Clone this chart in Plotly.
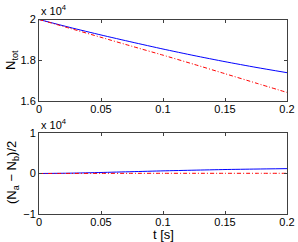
import plotly.graph_objects as go

t = [0, 0.025, 0.05, 0.075, 0.1, 0.125, 0.15, 0.175, 0.2]
ntot_blue = [20000, 19610, 19240, 18890, 18550, 18230, 17930, 17650, 17390]
ntot_red = [20000, 19565, 19125, 18685, 18250, 17800, 17340, 16880, 16420]
diff_blue = [0, 80, 250, 450, 650, 820, 980, 1100, 1200]
diff_red = [0, 20, 30, 40, 50, 50, 50, 50, 50]

x_ticks = [0, 0.05, 0.1, 0.15, 0.2]
x_labels = ["0", "0.05", "0.1", "0.15", "0.2"]
top_ticks = [16000, 18000, 20000]
top_labels = ["1.6", "1.8", "2"]
bot_ticks = [-10000, 0, 10000]
bot_labels = ["\u22121", "0", "1"]

W, H = 298, 242
def py(p):
    return 1 - p / H

blue = dict(color="#0000ff", width=1, shape="spline", smoothing=0.6)
red = dict(color="#ff0000", width=1, dash="4px,2px,1px,2px", shape="spline", smoothing=0.6)

fig = go.Figure()
fig.add_trace(go.Scatter(x=t, y=ntot_blue, mode="lines", line=blue, xaxis="x", yaxis="y"))
fig.add_trace(go.Scatter(x=t, y=ntot_red, mode="lines", line=red, xaxis="x", yaxis="y"))
fig.add_trace(go.Scatter(x=t, y=diff_blue, mode="lines", line=blue, xaxis="x2", yaxis="y2"))
fig.add_trace(go.Scatter(x=t, y=diff_red, mode="lines", line=red, xaxis="x2", yaxis="y2"))

font = dict(family="Liberation Sans, Arial, sans-serif", size=11, color="black")
axcommon = dict(showline=True, linecolor="#404040", linewidth=1, mirror="ticks", ticks="inside",
                ticklen=3, tickcolor="#404040", showgrid=False, zeroline=False, tickfont=font,
                automargin=False)
xd = [39 / W, 287 / W]

fig.update_layout(
    width=W, height=H, margin=dict(l=0, r=0, t=0, b=0, pad=0, autoexpand=False),
    paper_bgcolor="white", plot_bgcolor="white", showlegend=False, font=font,
    xaxis=dict(domain=xd, range=[0, 0.2], tickvals=x_ticks, ticktext=x_labels, anchor="y",
               ticklabelstandoff=-2, **axcommon),
    yaxis=dict(domain=[py(101), py(19.5)], range=[16000, 20000], tickvals=top_ticks, ticktext=top_labels,
               anchor="x", **axcommon),
    xaxis2=dict(domain=xd, range=[0, 0.2], tickvals=x_ticks, ticktext=x_labels, anchor="y2",
                ticklabelstandoff=-2, **axcommon),
    yaxis2=dict(domain=[py(214), py(133)], range=[-10000, 10000], tickvals=bot_ticks, ticktext=bot_labels,
                anchor="x2", **axcommon),
)

tfont = dict(family="Liberation Sans, Arial, sans-serif", size=13, color="black")
fig.add_annotation(text="x 10<sup>4</sup>", xref="paper", yref="paper", x=39 / W, y=py(19), xanchor="left",
                   yanchor="bottom", showarrow=False, font=font)
fig.add_annotation(text="x 10<sup>4</sup>", xref="paper", yref="paper", x=39 / W, y=py(132.5), xanchor="left",
                   yanchor="bottom", showarrow=False, font=font)
fig.add_annotation(text="N<sub>tot</sub>", xref="paper", yref="paper", x=11 / W, y=py(60), textangle=-90,
                   xanchor="center", yanchor="middle", showarrow=False, font=tfont)
fig.add_annotation(text="(N<sub>a</sub> \u2212 N<sub>b</sub>)/2", xref="paper", yref="paper", x=12 / W, y=py(173),
                   textangle=-90, xanchor="center", yanchor="middle", showarrow=False, font=tfont)
fig.add_annotation(text="t [s]", xref="paper", yref="paper", x=163 / W, y=py(234),
                   xanchor="center", yanchor="middle", showarrow=False, font=tfont)

fig.write_html("out.html", config={"displayModeBar": False},
               post_script="document.body.style.margin='0';document.body.style.padding='0';")
